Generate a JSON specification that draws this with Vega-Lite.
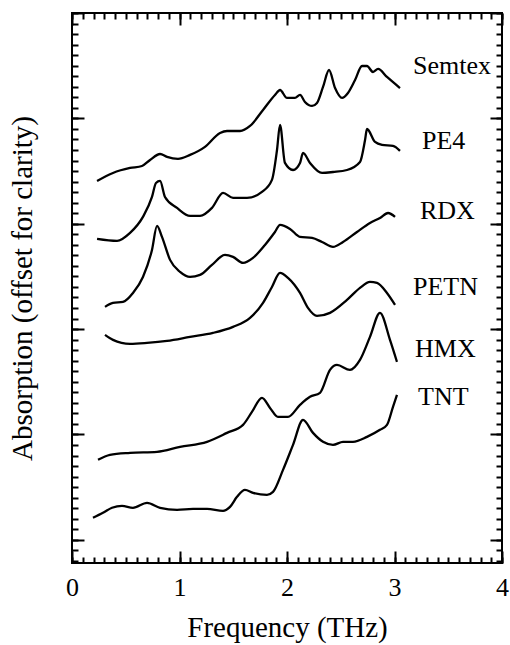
{
  "$schema": "https://vega.github.io/schema/vega-lite/v6.json",
  "autosize": "none",
  "width": 430,
  "height": 550,
  "padding": {"left": 72, "top": 13, "right": 8, "bottom": 82},
  "background": "white",
  "data": {"values": [
      {"label":"Semtex","f":3.172,"a":4.497},
      {"label":"PE4","f":3.256,"a":3.786},
      {"label":"RDX","f":3.237,"a":3.121},
      {"label":"PETN","f":3.172,"a":2.400},
      {"label":"HMX","f":3.191,"a":1.812},
      {"label":"TNT","f":3.219,"a":1.357},
      {"s":"Semtex","f":0.233,"a":3.406},{"s":"Semtex","f":0.381,"a":3.482},{"s":"Semtex","f":0.540,"a":3.529},{"s":"Semtex","f":0.651,"a":3.548},{"s":"Semtex","f":0.726,"a":3.605},{"s":"Semtex","f":0.819,"a":3.662},{"s":"Semtex","f":0.884,"a":3.634},{"s":"Semtex","f":0.986,"a":3.615},{"s":"Semtex","f":1.098,"a":3.653},{"s":"Semtex","f":1.237,"a":3.729},{"s":"Semtex","f":1.377,"a":3.861},{"s":"Semtex","f":1.442,"a":3.880},{"s":"Semtex","f":1.563,"a":3.880},{"s":"Semtex","f":1.656,"a":3.928},{"s":"Semtex","f":1.777,"a":4.080},{"s":"Semtex","f":1.888,"a":4.222},{"s":"Semtex","f":1.935,"a":4.269},{"s":"Semtex","f":2.000,"a":4.194},{"s":"Semtex","f":2.074,"a":4.194},{"s":"Semtex","f":2.121,"a":4.222},{"s":"Semtex","f":2.167,"a":4.156},{"s":"Semtex","f":2.233,"a":4.118},{"s":"Semtex","f":2.279,"a":4.146},{"s":"Semtex","f":2.335,"a":4.298},{"s":"Semtex","f":2.391,"a":4.459},{"s":"Semtex","f":2.447,"a":4.288},{"s":"Semtex","f":2.512,"a":4.194},{"s":"Semtex","f":2.567,"a":4.241},{"s":"Semtex","f":2.633,"a":4.364},{"s":"Semtex","f":2.698,"a":4.497},{"s":"Semtex","f":2.744,"a":4.497},{"s":"Semtex","f":2.800,"a":4.440},{"s":"Semtex","f":2.847,"a":4.469},{"s":"Semtex","f":2.930,"a":4.393},{"s":"Semtex","f":3.051,"a":4.288},
      {"s":"PE4","f":0.233,"a":2.856},{"s":"PE4","f":0.419,"a":2.837},{"s":"PE4","f":0.540,"a":2.913},{"s":"PE4","f":0.660,"a":3.065},{"s":"PE4","f":0.744,"a":3.254},{"s":"PE4","f":0.781,"a":3.387},{"s":"PE4","f":0.819,"a":3.406},{"s":"PE4","f":0.865,"a":3.254},{"s":"PE4","f":0.977,"a":3.150},{"s":"PE4","f":1.098,"a":3.074},{"s":"PE4","f":1.191,"a":3.074},{"s":"PE4","f":1.302,"a":3.150},{"s":"PE4","f":1.405,"a":3.292},{"s":"PE4","f":1.498,"a":3.245},{"s":"PE4","f":1.628,"a":3.245},{"s":"PE4","f":1.767,"a":3.302},{"s":"PE4","f":1.860,"a":3.416},{"s":"PE4","f":1.907,"a":3.700},{"s":"PE4","f":1.935,"a":3.937},{"s":"PE4","f":1.981,"a":3.577},{"s":"PE4","f":2.056,"a":3.510},{"s":"PE4","f":2.121,"a":3.577},{"s":"PE4","f":2.149,"a":3.672},{"s":"PE4","f":2.214,"a":3.577},{"s":"PE4","f":2.326,"a":3.482},{"s":"PE4","f":2.428,"a":3.491},{"s":"PE4","f":2.558,"a":3.510},{"s":"PE4","f":2.679,"a":3.586},{"s":"PE4","f":2.726,"a":3.795},{"s":"PE4","f":2.744,"a":3.899},{"s":"PE4","f":2.819,"a":3.776},{"s":"PE4","f":2.884,"a":3.748},{"s":"PE4","f":2.986,"a":3.738},{"s":"PE4","f":3.051,"a":3.691},
      {"s":"RDX","f":0.307,"a":2.211},{"s":"RDX","f":0.381,"a":2.249},{"s":"RDX","f":0.474,"a":2.258},{"s":"RDX","f":0.567,"a":2.343},{"s":"RDX","f":0.660,"a":2.495},{"s":"RDX","f":0.744,"a":2.751},{"s":"RDX","f":0.791,"a":2.979},{"s":"RDX","f":0.837,"a":2.875},{"s":"RDX","f":0.912,"a":2.657},{"s":"RDX","f":1.005,"a":2.543},{"s":"RDX","f":1.098,"a":2.495},{"s":"RDX","f":1.191,"a":2.514},{"s":"RDX","f":1.302,"a":2.609},{"s":"RDX","f":1.423,"a":2.704},{"s":"RDX","f":1.498,"a":2.685},{"s":"RDX","f":1.591,"a":2.628},{"s":"RDX","f":1.684,"a":2.676},{"s":"RDX","f":1.795,"a":2.799},{"s":"RDX","f":1.888,"a":2.922},{"s":"RDX","f":1.935,"a":2.989},{"s":"RDX","f":2.028,"a":2.951},{"s":"RDX","f":2.121,"a":2.875},{"s":"RDX","f":2.233,"a":2.865},{"s":"RDX","f":2.326,"a":2.827},{"s":"RDX","f":2.428,"a":2.780},{"s":"RDX","f":2.521,"a":2.827},{"s":"RDX","f":2.651,"a":2.922},{"s":"RDX","f":2.772,"a":3.008},{"s":"RDX","f":2.865,"a":3.055},{"s":"RDX","f":2.940,"a":3.102},{"s":"RDX","f":3.005,"a":3.065},
      {"s":"PETN","f":0.307,"a":1.945},{"s":"PETN","f":0.381,"a":1.898},{"s":"PETN","f":0.540,"a":1.860},{"s":"PETN","f":0.698,"a":1.869},{"s":"PETN","f":0.884,"a":1.888},{"s":"PETN","f":1.098,"a":1.926},{"s":"PETN","f":1.312,"a":1.964},{"s":"PETN","f":1.498,"a":2.021},{"s":"PETN","f":1.656,"a":2.106},{"s":"PETN","f":1.777,"a":2.249},{"s":"PETN","f":1.860,"a":2.400},{"s":"PETN","f":1.935,"a":2.533},{"s":"PETN","f":2.009,"a":2.486},{"s":"PETN","f":2.121,"a":2.343},{"s":"PETN","f":2.195,"a":2.201},{"s":"PETN","f":2.279,"a":2.125},{"s":"PETN","f":2.400,"a":2.154},{"s":"PETN","f":2.558,"a":2.277},{"s":"PETN","f":2.679,"a":2.391},{"s":"PETN","f":2.772,"a":2.448},{"s":"PETN","f":2.837,"a":2.438},{"s":"PETN","f":2.930,"a":2.343},{"s":"PETN","f":3.005,"a":2.230},
      {"s":"HMX","f":0.242,"a":0.759},{"s":"HMX","f":0.353,"a":0.806},{"s":"HMX","f":0.540,"a":0.825},{"s":"HMX","f":0.791,"a":0.835},{"s":"HMX","f":1.005,"a":0.882},{"s":"HMX","f":1.256,"a":0.930},{"s":"HMX","f":1.442,"a":1.015},{"s":"HMX","f":1.591,"a":1.091},{"s":"HMX","f":1.674,"a":1.214},{"s":"HMX","f":1.767,"a":1.347},{"s":"HMX","f":1.842,"a":1.252},{"s":"HMX","f":1.916,"a":1.167},{"s":"HMX","f":2.009,"a":1.167},{"s":"HMX","f":2.121,"a":1.281},{"s":"HMX","f":2.214,"a":1.357},{"s":"HMX","f":2.307,"a":1.395},{"s":"HMX","f":2.400,"a":1.613},{"s":"HMX","f":2.465,"a":1.660},{"s":"HMX","f":2.586,"a":1.613},{"s":"HMX","f":2.679,"a":1.708},{"s":"HMX","f":2.772,"a":1.926},{"s":"HMX","f":2.865,"a":2.154},{"s":"HMX","f":2.958,"a":1.898},{"s":"HMX","f":3.023,"a":1.689},
      {"s":"TNT","f":0.195,"a":0.209},{"s":"TNT","f":0.288,"a":0.256},{"s":"TNT","f":0.372,"a":0.304},{"s":"TNT","f":0.465,"a":0.323},{"s":"TNT","f":0.567,"a":0.304},{"s":"TNT","f":0.698,"a":0.351},{"s":"TNT","f":0.819,"a":0.304},{"s":"TNT","f":0.977,"a":0.285},{"s":"TNT","f":1.126,"a":0.294},{"s":"TNT","f":1.256,"a":0.294},{"s":"TNT","f":1.405,"a":0.275},{"s":"TNT","f":1.470,"a":0.313},{"s":"TNT","f":1.535,"a":0.408},{"s":"TNT","f":1.609,"a":0.474},{"s":"TNT","f":1.684,"a":0.446},{"s":"TNT","f":1.814,"a":0.427},{"s":"TNT","f":1.870,"a":0.455},{"s":"TNT","f":1.963,"a":0.664},{"s":"TNT","f":2.056,"a":0.901},{"s":"TNT","f":2.149,"a":1.139},{"s":"TNT","f":2.242,"a":1.015},{"s":"TNT","f":2.335,"a":0.930},{"s":"TNT","f":2.428,"a":0.901},{"s":"TNT","f":2.521,"a":0.930},{"s":"TNT","f":2.614,"a":0.930},{"s":"TNT","f":2.744,"a":0.977},{"s":"TNT","f":2.865,"a":1.044},{"s":"TNT","f":2.930,"a":1.091},{"s":"TNT","f":2.986,"a":1.262},{"s":"TNT","f":3.023,"a":1.376}
  ]},
  "layer": [
    {
      "transform": [{"filter": "isValid(datum.label)"}],
      "mark": {"type": "text", "align": "left", "baseline": "middle", "font": "Times New Roman", "fontSize": 26, "color": "black"},
      "encoding": {
        "x": {"field": "f", "type": "quantitative", "scale": {"domain": [0, 4], "nice": false, "zero": false},
          "axis": {"orient": "bottom", "tickColor": "black", "tickSize": -12, "tickCount": 4, "format": "d",
            "labelFont": "Times New Roman", "labelPadding": 23,
            "title": "Frequency (THz)", "titleFont": "Times New Roman", "titleX": 215, "titleY": 73, "titleBaseline": "alphabetic", "titleAnchor": null, "titleAlign": "center"}},
        "y": {"field": "a", "type": "quantitative", "scale": {"domain": [-0.22, 5], "nice": false, "zero": false},
          "axis": {"orient": "left", "tickColor": "black", "tickSize": -12, "tickCount": 5, "labels": false,
            "title": "Absorption (offset for clarity)", "titleFont": "Times New Roman", "titleX": -41, "titleY": 275, "titleAngle": -90, "titleBaseline": "alphabetic", "titleAlign": "center", "titleAnchor": null}},
        "text": {"field": "label", "type": "nominal"}
      }
    },
    {
      "transform": [{"filter": "isValid(datum.s)"}],
      "mark": {"type": "line", "color": "black", "strokeWidth": 2.3, "interpolate": "monotone"},
      "encoding": {
        "x": {"field": "f", "type": "quantitative", "scale": {"domain": [0, 4], "nice": false, "zero": false},
          "axis": {"orient": "top", "tickColor": "black", "tickSize": -12, "tickCount": 4, "labels": false, "title": null}},
        "y": {"field": "a", "type": "quantitative", "scale": {"domain": [-0.22, 5], "nice": false, "zero": false},
          "axis": {"orient": "right", "tickColor": "black", "tickSize": -12, "tickCount": 5, "labels": false, "title": null}},
        "detail": {"field": "s", "type": "nominal"}
      }
    },
    {
      "transform": [{"filter": "isValid(datum.label)"}],
      "mark": {"type": "point", "opacity": 0},
      "encoding": {
        "x": {"field": "f", "type": "quantitative", "scale": {"domain": [0, 4], "nice": false, "zero": false},
          "axis": {"orient": "bottom", "tickColor": "black", "tickSize": -6, "tickCount": 40, "labels": false, "title": null}},
        "y": {"field": "a", "type": "quantitative", "scale": {"domain": [-0.22, 5], "nice": false, "zero": false},
          "axis": {"orient": "left", "tickColor": "black", "tickSize": -6, "tickCount": 52, "labels": false, "title": null}}
      }
    },
    {
      "transform": [{"filter": "isValid(datum.label)"}],
      "mark": {"type": "point", "opacity": 0},
      "encoding": {
        "x": {"field": "f", "type": "quantitative", "scale": {"domain": [0, 4], "nice": false, "zero": false},
          "axis": {"orient": "top", "tickColor": "black", "tickSize": -6, "tickCount": 40, "labels": false, "title": null}},
        "y": {"field": "a", "type": "quantitative", "scale": {"domain": [-0.22, 5], "nice": false, "zero": false},
          "axis": {"orient": "right", "tickColor": "black", "tickSize": -6, "tickCount": 52, "labels": false, "title": null}}
      }
    }
  ],
  "resolve": {"axis": {"x": "independent", "y": "independent"}},
  "config": {
    "view": {"stroke": "black", "strokeWidth": 2},
    "axis": {
      "grid": false,
      "domain": false,
      "tickWidth": 2,
      "labelColor": "black",
      "titleColor": "black",
      "labelFontSize": 26,
      "titleFontSize": 29,
      "titleFontWeight": "normal",
      "labelFlush": false,
      "labelOverlap": false
    }
  }
}
